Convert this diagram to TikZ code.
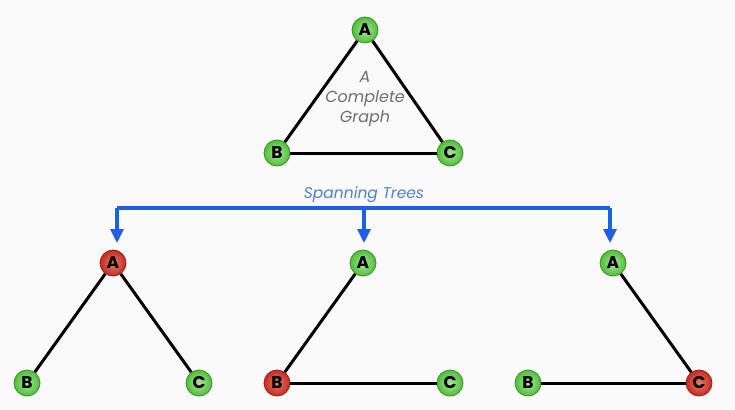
\documentclass[tikz,border=0pt]{standalone}
\usepackage{fontspec}
\setmainfont{Poppins}
\usetikzlibrary{arrows.meta}
\definecolor{bg}{HTML}{FAFAFA}
\definecolor{gball}{HTML}{4DBF35}
\definecolor{rball}{HTML}{C8291C}
\definecolor{bline}{HTML}{1F5FE8}
\definecolor{btext}{HTML}{4A7FD8}
\definecolor{gtext}{HTML}{6E6E6E}
\tikzset{
  vtx/.style={circle, minimum size=26pt, inner sep=0pt, font=\fontsize{17}{17}\selectfont\bfseries, text=black},
  gv/.style={vtx, inner color=gball!45!white, outer color=gball, draw=gball!75!black, line width=0.8pt},
  rv/.style={vtx, inner color=rball!60!white, outer color=rball, draw=rball!75!black, line width=0.8pt},
  edge/.style={line width=3pt, black},
  blue/.style={line width=3.2pt, bline},
  barrow/.style={blue, -{Triangle[length=14pt,width=13pt]}},
}
\begin{document}
\begin{tikzpicture}[x=1pt,y=-1pt]
\useasboundingbox[fill=bg] (0,0) rectangle (735,409);
% top complete graph
\node[gv] (A0) at (365,30) {A};
\node[gv] (B0) at (277,153) {B};
\node[gv] (C0) at (450,153) {C};
\draw[edge] (A0) -- (B0);
\draw[edge] (A0) -- (C0);
\draw[edge] (B0) -- (C0);
\node[text=gtext, font=\fontsize{16}{20}\selectfont\itshape, align=center] (lab) at (365,99) {A\\Complete\\Graph};
% bracket
\coordinate (h1) at (117,208);
\coordinate (hm) at (364,208);
\coordinate (h3) at (610,208);
\coordinate (t1) at (117,243);
\coordinate (t2) at (364,243);
\coordinate (t3) at (610,243);
\draw[blue, line join=round] (h1) -- (h3);
\draw[barrow] (h1) -- (t1);
\draw[barrow] (hm) -- (t2);
\draw[barrow] (h3) -- (t3);
\node[text=btext, font=\fontsize{15.5}{16}\selectfont\itshape, anchor=south] (st) at (364,206) {Spanning Trees};
% tree 1
\node[rv] (A1) at (113,263) {A};
\node[gv] (B1) at (27,383) {B};
\node[gv] (C1) at (199,383) {C};
\draw[edge] (A1) -- (B1);
\draw[edge] (A1) -- (C1);
% tree 2
\node[gv] (A2) at (363,263) {A};
\node[rv] (B2) at (277,383) {B};
\node[gv] (C2) at (450,383) {C};
\draw[edge] (A2) -- (B2);
\draw[edge] (B2) -- (C2);
% tree 3
\node[gv] (A3) at (613,263) {A};
\node[gv] (B3) at (528,383) {B};
\node[rv] (C3) at (699,383) {C};
\draw[edge] (A3) -- (C3);
\draw[edge] (B3) -- (C3);
\end{tikzpicture}
\end{document}
